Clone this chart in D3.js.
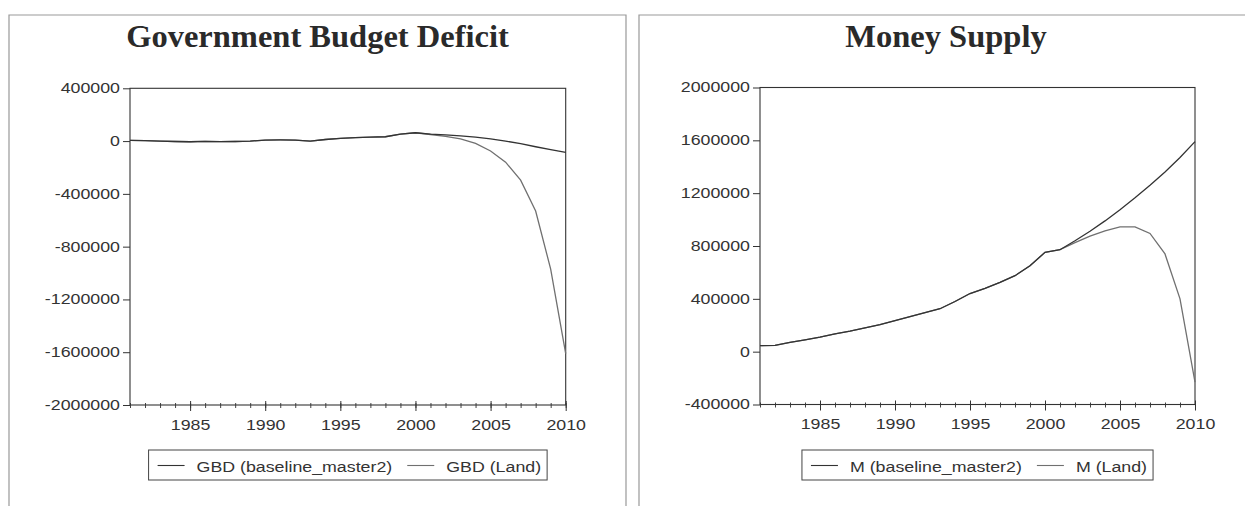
<!DOCTYPE html>
<html><head><meta charset="utf-8">
<script src="https://cdn.jsdelivr.net/npm/d3@7"></script>
<style>html,body{margin:0;padding:0;background:#fff;} svg{display:block}</style>
</head><body><svg id="c" width="1245" height="506"></svg>
<script>
// ---------- data ----------
const years = [1981,1982,1983,1984,1985,1986,1987,1988,1989,1990,1991,1992,1993,1994,1995,
               1996,1997,1998,1999,2000,2001,2002,2003,2004,2005,2006,2007,2008,2009,2010];
const gbdBaseline = [5000,3000,0,-3000,-5000,-2000,-4000,-3000,0,8000,9000,8000,0,12000,20000,
                     26000,30000,33000,52000,63000,52000,47000,40000,30000,17000,0,-20000,-43000,-65000,-86000];
const gbdLand     = [5000,3000,0,-3000,-5000,-2000,-4000,-3000,0,8000,9000,8000,0,12000,20000,
                     26000,30000,33000,52000,63000,50000,35000,16000,-18000,-75000,-160000,-296000,-530000,-970000,-1610000];
const mBaseline   = [45000,47000,70000,90000,110000,135000,155000,180000,205000,235000,266000,295000,325000,380000,440000,
                     480000,525000,575000,650000,752000,772000,840000,912000,990000,1075000,1165000,1260000,1360000,1470000,1590000];
const mLand       = [45000,47000,70000,90000,110000,135000,155000,180000,205000,235000,266000,295000,325000,380000,440000,
                     480000,525000,575000,650000,752000,772000,825000,875000,915000,945000,945000,895000,740000,400000,-230000];
const gbdTicks = [-2000000,-1600000,-1200000,-800000,-400000,0,400000];
const mTicks   = [-400000,0,400000,800000,1200000,1600000,2000000];
const yearTicks = [1985,1990,1995,2000,2005,2010];
const titles = ["Government Budget Deficit","Money Supply"];
const legendGBD = ["GBD (baseline_master2)","GBD (Land)"];
const legendM   = ["M (baseline_master2)","M (Land)"];

// ---------- layout ----------
const SX = 1.27;           // horizontal stretch of the sans text in the scan
const FONT = "'Liberation Sans', Arial, sans-serif";
const TXT = "#333";
const BASE_COL = "#333", LAND_COL = "#707070";

const panels = [
  {frame:{l:9, t:15, r:626}, plot:{l:130, r:565.7, t:88.3, b:405}, title:titles[0], titleX:317.5,
   ticks:gbdTicks, series:[gbdBaseline, gbdLand], legend:legendGBD},
  {frame:{l:639, t:15, r:1245}, plot:{l:760, r:1195, t:87.5, b:404.5}, title:titles[1], titleX:946,
   ticks:mTicks, series:[mBaseline, mLand], legend:legendM}
];

const svg = d3.select("#c");

function stretch(sel){
  sel.each(function(){
    const t = d3.select(this);
    const x = +t.attr("x") || 0;
    t.attr("x", x / SX).attr("transform", `scale(${SX},1)`);
  });
}

panels.forEach(p => {
  // panel frame
  svg.append("path")
    .attr("d", `M${p.frame.l},506V${p.frame.t}H${p.frame.r}` + (p.frame.r < 1245 ? "V506" : ""))
    .attr("fill","none").attr("stroke","#999").attr("stroke-width",1.2);

  // title
  svg.append("text").attr("x", p.titleX).attr("y", 47)
    .attr("text-anchor","middle")
    .attr("font-family","'Liberation Serif','Times New Roman',serif")
    .attr("font-weight","bold").attr("font-size", 32.5)
    .attr("fill","#2a2a2a").text(p.title);

  const x = d3.scaleLinear().domain([years[0], years[years.length-1]]).range([p.plot.l, p.plot.r]);
  const y = d3.scaleLinear().domain([p.ticks[0], p.ticks[p.ticks.length-1]]).range([p.plot.b, p.plot.t]);

  // y axis
  const ya = svg.append("g").attr("transform", `translate(${p.plot.l},0)`)
    .call(d3.axisLeft(y).tickValues(p.ticks).tickSize(7).tickPadding(3).tickFormat(d => String(d)));
  ya.select(".domain").remove();
  ya.selectAll("line").attr("stroke", "#333");
  ya.selectAll("text").attr("font-family", FONT).attr("font-size", 14).attr("fill", TXT).call(stretch);

  // x axis minor
  const xm = svg.append("g").attr("transform", `translate(0,${p.plot.b})`)
    .call(d3.axisBottom(x).tickValues(years).tickSize(3).tickFormat(""));
  xm.select(".domain").remove();
  xm.selectAll("line").attr("y1", -2).attr("stroke", "#444");
  // x axis major
  const xa = svg.append("g").attr("transform", `translate(0,${p.plot.b})`)
    .call(d3.axisBottom(x).tickValues(yearTicks).tickSize(6).tickPadding(9).tickFormat(d => String(d)));
  xa.select(".domain").remove();
  xa.selectAll("line").attr("y1", -4).attr("stroke", "#333");
  xa.selectAll("text").attr("font-family", FONT).attr("font-size", 14).attr("fill", TXT).call(stretch);

  // plot frame
  svg.append("rect").attr("x", p.plot.l).attr("y", p.plot.t)
    .attr("width", p.plot.r - p.plot.l).attr("height", p.plot.b - p.plot.t)
    .attr("fill","none").attr("stroke","#333").attr("stroke-width",1.1);

  // lines
  const line = d3.line().x((d,i) => x(years[i])).y(d => y(d));
  svg.append("path").datum(p.series[1]).attr("d", line)
    .attr("fill","none").attr("stroke", LAND_COL).attr("stroke-width", 1.3);
  svg.append("path").datum(p.series[0]).attr("d", line)
    .attr("fill","none").attr("stroke", BASE_COL).attr("stroke-width", 1.3);

  // legend
  const lg = svg.append("g");
  const sampleLen = 27, padL = 9, gapST = 12, gapItems = 15, padR = 6;
  const yMid = 465.5;
  let cx = padL;
  const cols = [BASE_COL, LAND_COL];
  p.legend.forEach((lab, i) => {
    lg.append("line").attr("x1", cx).attr("x2", cx + sampleLen).attr("y1", yMid).attr("y2", yMid)
      .attr("stroke", cols[i]).attr("stroke-width", 1.1);
    cx += sampleLen + gapST;
    const t = lg.append("text").attr("x", cx).attr("y", yMid + 6.5)
      .attr("font-family", FONT).attr("font-size", 14).attr("fill", TXT).text(lab);
    const w = t.node().getComputedTextLength() * SX;
    t.call(stretch);
    cx += w + (i < p.legend.length - 1 ? gapItems : padR);
  });
  const boxW = cx;
  lg.insert("rect", ":first-child").attr("x", 0).attr("y", 450).attr("width", boxW).attr("height", 30)
    .attr("fill","#fff").attr("stroke","#444").attr("stroke-width",1);
  const center = (p.plot.l + p.plot.r) / 2;
  lg.attr("transform", `translate(${center - boxW/2},0)`);
});
</script></body></html>
